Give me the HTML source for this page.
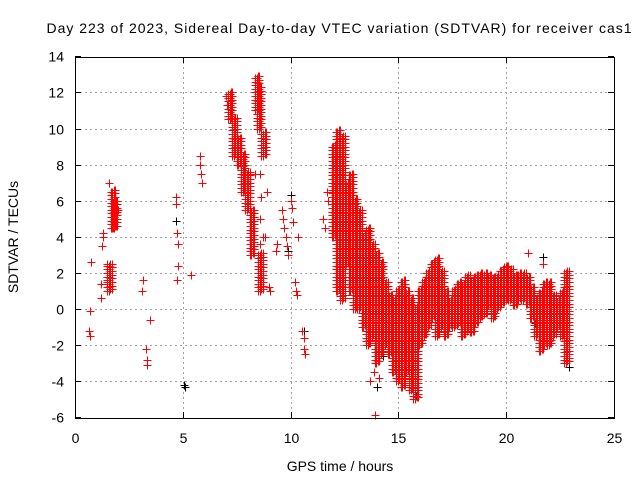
<!DOCTYPE html>
<html><head><meta charset="utf-8"><style>
body{margin:0;background:#fff;width:640px;height:480px;overflow:hidden}
svg text{font-family:"Liberation Sans",sans-serif;font-size:14px;fill:#000}
</style></head><body>
<svg id="chart" width="640" height="480" xmlns="http://www.w3.org/2000/svg">
<rect width="640" height="480" fill="#fff"/>
<text x="339" y="33" text-anchor="middle" font-size="15" textLength="585">Day 223 of 2023, Sidereal Day-to-day VTEC variation (SDTVAR) for receiver cas1</text>
<text x="340" y="471" text-anchor="middle" font-size="15">GPS time / hours</text>
<text transform="translate(18,237) rotate(-90)" text-anchor="middle" font-size="15">SDTVAR / TECUs</text>
<g id="grid"></g><g id="ticks"></g><g id="marks"></g>
<rect x="75.5" y="57.5" width="539" height="361" fill="none" stroke="#000" stroke-width="1"/>
</svg>
<script>
const xTicks=[0,5,10,15,20,25];
const yTicks=[-6,-4,-2,0,2,4,6,8,10,12,14];
// dense bands: time, low, high
const bandT=[7.2,7.4,7.6,7.8,8.0,8.2,8.45,8.6,8.75,8.55,12.0,12.2,12.4,12.6,12.8,13.0,13.2,13.4,13.6,13.8,14.0,14.2,14.4,14.6,14.8,15.0,15.2,15.4,15.6,15.8,16.0,16.2,16.4,16.6,16.8,17.0,17.2,17.4,17.6,17.8,18.0,18.2,18.4,18.6,18.8,19.0,19.2,19.4,19.6,19.8,20.0,20.2,20.4,20.6,20.8,21.0,21.2,21.4,21.6,21.8,22.0,22.2,22.4,22.6,22.8,1.75,1.85,1.6];
const bandLo=[10.5,8.5,8.0,6.5,5.5,3.0,11.0,1.0,8.5,10.0,4.0,1.0,0.5,2.5,1.0,0.0,0.0,-1.0,-2.0,-1.5,-3.0,-2.5,-2.0,-2.5,-3.5,-4.0,-4.3,-3.5,-4.5,-5.0,-2.0,-1.5,-1.0,-0.5,-1.5,-1.0,-1.5,-1.0,-1.0,-0.8,-1.5,-1.2,-1.3,-0.8,-0.5,-0.3,0.2,-0.5,0.0,0.3,0.5,0.5,0.2,0.5,0.5,0.3,-0.5,-1.5,-2.3,-2.0,-2.0,-1.5,-1.0,-1.5,-3.0,4.5,4.5,1.0];
const bandHi=[12.0,10.5,9.5,8.5,7.5,5.5,12.8,3.0,9.8,12.3,9.0,9.8,9.5,7.0,7.5,6.0,5.5,4.0,4.5,3.5,3.0,2.5,1.5,0.8,0.5,1.0,1.5,1.0,0.5,0.0,1.0,1.5,2.0,2.5,2.7,2.0,1.0,0.5,1.0,1.5,1.3,1.8,1.6,1.8,2.0,2.0,1.8,1.7,1.8,2.2,2.4,2.2,1.8,1.9,2.0,1.8,1.2,0.5,1.0,1.5,1.5,0.8,0.5,1.0,2.0,6.5,6.0,2.5];
// scattered points
const ptT=[0.65,0.7,0.7,0.75,1.2,1.2,1.25,1.3,1.3,1.5,1.5,1.6,1.7,1.9,2.0,3.1,3.15,3.3,3.35,3.35,3.5,4.7,4.7,4.75,4.8,4.75,4.8,5.4,5.8,5.8,5.85,5.9,7.0,7.05,8.35,8.5,8.8,8.9,9.0,9.05,9.3,9.35,9.6,9.65,9.7,9.8,9.85,9.9,10.0,10.05,10.1,10.2,10.25,10.3,10.35,10.55,10.6,10.6,10.65,11.5,11.6,11.7,11.75,11.9,13.9,13.85,13.7,14.1,21.0,21.7,8.6,8.65,8.6,8.7,8.6];
const ptV=[-1.2,-1.5,-0.1,2.6,1.4,0.6,3.5,4.2,4.0,2.5,1.5,7.0,6.5,6.0,5.5,1.0,1.6,-2.2,-2.8,-3.1,-0.6,6.2,5.8,4.2,2.4,1.6,3.6,1.9,8.5,8.0,7.5,7.0,11.8,11.3,7.5,2.0,4.0,6.5,1.2,1.0,3.2,3.6,5.5,5.0,4.5,4.0,3.5,3.0,6.0,5.6,4.8,1.5,1.0,0.8,4.0,-1.2,-1.6,-2.2,-2.5,5.0,4.5,6.5,6.0,8.0,-5.9,-3.5,-4.0,-3.8,3.1,2.5,7.5,6.2,5.0,4.0,3.6];
const blackT=[5.1,5.05,10.0,10.6,21.7,21.35,22.9,14.0,14.3,4.7,15.8,9.9];
const blackV=[-4.3,-4.2,6.3,-1.2,2.9,-0.8,-3.2,-4.3,-2.6,4.9,-4.8,3.2];

const X=t=>75+t*539/25, Y=v=>309-v*361/20;
const NS="http://www.w3.org/2000/svg";
const grid=document.getElementById('grid'),ticks=document.getElementById('ticks'),marks=document.getElementById('marks');
function mk(tag,attrs,parent){const e=document.createElementNS(NS,tag);for(const k in attrs)e.setAttribute(k,attrs[k]);parent.appendChild(e);return e;}
xTicks.forEach(t=>{const x=Math.round(X(t))+0.5;
 if(t>0&&t<25){const g=mk('line',{x1:x,x2:x,y1:57,y2:418,stroke:'#a0a0a0','stroke-dasharray':'2,3'},grid);
 
 }
 mk('line',{x1:x,x2:x,y1:418,y2:412,stroke:'#000'},ticks);mk('line',{x1:x,x2:x,y1:57,y2:63,stroke:'#000'},ticks);
 const l=mk('text',{x:x,y:443,'text-anchor':'middle'},ticks);l.textContent=t;
 
 });
yTicks.forEach(v=>{const y=Math.round(Y(v))+0.5;
 if(v>-6&&v<14){const g=mk('line',{x1:75,x2:614,y1:y,y2:y,stroke:'#a0a0a0','stroke-dasharray':'2,3'},grid);
 
 }
 mk('line',{x1:75,x2:81,y1:y,y2:y,stroke:'#000'},ticks);mk('line',{x1:614,x2:608,y1:y,y2:y,stroke:'#000'},ticks);
 const l=mk('text',{x:64,y:y+5,'text-anchor':'end'},ticks);l.textContent=v;
 
 });
let dBlack='',dRed='';
const plus=(t,v)=>{const x=Math.round(X(t))+0.5,y=Math.round(Y(v))+0.5;return `M${x-4} ${y}h8M${x} ${y-4}v8`;};
blackT.forEach((t,i)=>{dBlack+=plus(t,blackV[i]);});
bandT.forEach((t,i)=>{for(const dt of [-0.1,-0.03,0.04,0.1]){for(let v=bandLo[i];v<=bandHi[i]+1e-6;v+=0.2){dRed+=plus(t+dt,v+(dt>0?0.1:0));}}});
ptT.forEach((t,i)=>{dRed+=plus(t,ptV[i]);});
const pb=mk('path',{d:dBlack,stroke:'#000','stroke-width':1,fill:'none','shape-rendering':'crispEdges'},marks);


const pr=mk('path',{d:dRed,stroke:'#f00','stroke-width':1.2,fill:'none','shape-rendering':'crispEdges'},marks);


</script>
</body></html>
